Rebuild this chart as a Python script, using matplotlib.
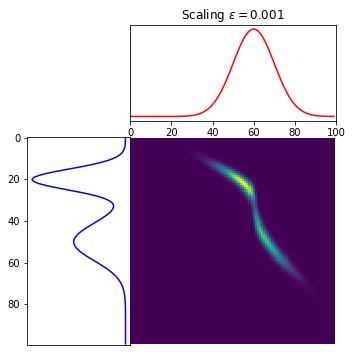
import numpy as np
import matplotlib
matplotlib.use("Agg")
import matplotlib.pyplot as plt
from matplotlib import gridspec

# source histogram (left), x 1e-5
source_vals = [1, 3, 6, 12, 24, 44, 79, 136, 224, 355, 540, 790, 1110, 1498, 1943, 2421, 2899, 3335, 3687, 3916,
               3998, 3923, 3700, 3357, 2931, 2467, 2005, 1582, 1221, 935, 728, 593, 524, 508, 536, 597, 685, 793, 917, 1053,
               1197, 1345, 1493, 1638, 1775, 1899, 2008, 2097, 2162, 2203, 2216, 2203, 2162, 2097, 2008, 1899, 1775, 1638, 1493, 1344,
               1196, 1050, 911, 781, 661, 553, 456, 372, 300, 239, 188, 146, 112, 85, 63, 47, 34, 25, 18, 12,
               9, 6, 4, 3, 2, 1, 1, 0, 0, 0, 0, 0, 0, 0, 0, 0, 0, 0, 0, 0]
# target histogram (top), red curve, x 1e-5
target_vals = [0, 0, 0, 0, 0, 0, 0, 0, 0, 0, 0, 0, 0, 0, 0, 0, 0, 0, 1, 1,
               1, 2, 3, 4, 6, 9, 12, 17, 24, 33, 44, 60, 79, 104, 136, 175, 224, 283, 355, 440,
               540, 656, 790, 941, 1109, 1295, 1497, 1714, 1942, 2179, 2420, 2661, 2897, 3123, 3332, 3521, 3683, 3814, 3911, 3970,
               3990, 3970, 3911, 3814, 3683, 3521, 3332, 3123, 2897, 2661, 2420, 2179, 1942, 1714, 1497, 1295, 1109, 941, 790, 656,
               540, 440, 355, 283, 224, 175, 136, 104, 79, 60, 44, 33, 24, 17, 12, 9, 6, 4, 3, 2]
reg = 1e-3
title = r'Scaling $\epsilon = 0.001$'

a = np.array(source_vals, dtype=float)
a /= a.sum()
b = np.array(target_vals, dtype=float)
b /= b.sum()
n = len(a)
x = np.arange(n, dtype=np.float64)


def lse(z, axis):
    zm = z.max(axis=axis, keepdims=True)
    return (zm + np.log(np.exp(z - zm).sum(axis=axis, keepdims=True))).squeeze(axis)


def sinkhorn_eps_scaling(a, b, M, reg, n_iter=3000):
    # log-domain sinkhorn, epsilon decreased step by step down to reg
    f = np.zeros(len(a))
    g = np.zeros(len(b))
    with np.errstate(divide='ignore', invalid='ignore'):
        la, lb = np.log(a), np.log(b)
        for eps in np.geomspace(1.0, reg, 30):
            for _ in range(n_iter // 30):
                f = eps * la - eps * lse((g[None, :] - M) / eps, 1)
                g = eps * lb - eps * lse((f[:, None] - M) / eps, 0)
        for _ in range(n_iter):
            f = reg * la - reg * lse((g[None, :] - M) / reg, 1)
            g = reg * lb - reg * lse((f[:, None] - M) / reg, 0)
        return np.exp((f[:, None] + g[None, :] - M) / reg)


M = (x[:, None] - x[None, :]) ** 2
M /= M.max()
G = sinkhorn_eps_scaling(a, b, M, reg)

fig = plt.figure(figsize=(352 / 72, 352 / 72), dpi=72)
gs = gridspec.GridSpec(3, 3)
ax1 = plt.subplot(gs[0, 1:])
plt.plot(x, b, 'r')
plt.yticks(())
plt.title(title)
ax2 = plt.subplot(gs[1:, 0])
plt.plot(a, x, 'b')
plt.gca().invert_xaxis()
plt.gca().invert_yaxis()
plt.xticks(())
plt.subplot(gs[1:, 1:], sharex=ax1, sharey=ax2)
plt.imshow(G, interpolation='nearest')
plt.axis('off')
plt.xlim((0, n))
plt.subplots_adjust(left=27.3 / 352, right=336 / 352, top=1 - 24.7 / 352, bottom=1 - 345 / 352,
                    wspace=0., hspace=0.166)
plt.savefig("out.png", dpi=72)
